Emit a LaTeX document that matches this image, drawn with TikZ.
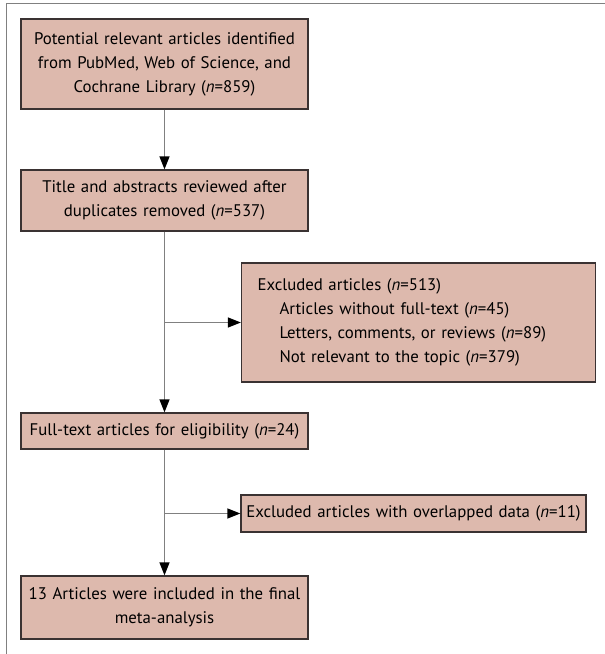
\documentclass[tikz,border=0pt]{standalone}
\usepackage{fontspec}
\setmainfont{PT Sans}
\usetikzlibrary{arrows.meta}
\definecolor{boxfill}{RGB}{221,185,173}
\definecolor{boxline}{RGB}{58,50,50}
\definecolor{linkgray}{RGB}{128,128,128}
\tikzset{
	stage/.style={draw=boxline, fill=boxfill, line width=1.2pt, inner xsep=6pt, inner ysep=0pt, align=center, text width=275pt, font=\fontsize{16.8}{24}\selectfont},
	link/.style={draw=linkgray, line width=1.3pt, -{Triangle[length=13pt, width=10pt, color=black]}}
}
\begin{document}
\begin{tikzpicture}[x=1pt, y=-1pt]
		\useasboundingbox (0,0) rectangle (605,654);
		\draw[linkgray, line width=1pt] (6,654) -- (6,3) -- (605,3);

		\node[stage, minimum height=90pt] (found) at (164.5, 64) {Potential relevant articles identified\\ from PubMed, Web of Science, and\\ Cochrane Library (\textit{n}=859)};
		\node[stage, minimum height=61pt] (screen) at (164.5, 200.5) {Title and abstracts reviewed after\\ duplicates removed (\textit{n}=537)};
		\node[stage, minimum height=119pt, text width=322pt, inner xsep=16pt, align=left] (excl) at (418.5, 322.5) {Excluded articles (\textit{n}=513)\\ \hspace*{22pt}Articles without full-text (\textit{n}=45)\\ \hspace*{22pt}Letters, comments, or reviews (\textit{n}=89)\\ \hspace*{22pt}Not relevant to the topic (\textit{n}=379)};
		\node[stage, minimum height=36pt] (full) at (164.5, 431) {Full-text articles for eligibility (\textit{n}=24)};
		\node[stage, minimum height=37pt, text width=343pt, inner xsep=1pt] (overlap) at (413.5, 513.5) {Excluded articles with overlapped data (\textit{n}=11)};
		\node[stage, minimum height=63pt] (final) at (164.5, 607.5) {13 Articles were included in the final\\ meta-analysis};

		\coordinate (split1) at (screen.south |- excl.west);
		\coordinate (split2) at (full.south |- overlap.west);

		\draw[link] (found) -- (screen);
		\draw[link] (screen) -- (full);
		\draw[link] (split1) -- (excl);
		\draw[link] (full) -- (final);
		\draw[link] (split2) -- (overlap);
	\end{tikzpicture}
\end{document}
